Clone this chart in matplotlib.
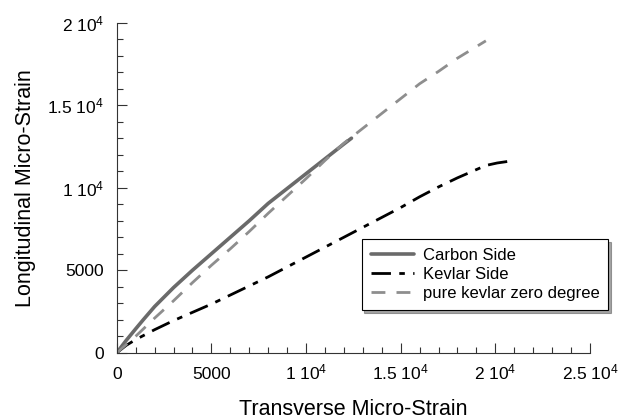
import matplotlib
matplotlib.use("Agg")
import matplotlib.pyplot as plt
from matplotlib.ticker import MultipleLocator, FixedLocator

plt.rcParams['font.family'] = ['Liberation Sans', 'DejaVu Sans']
plt.rcParams['mathtext.fontset'] = 'custom'
plt.rcParams['mathtext.rm'] = 'Liberation Sans'
plt.rcParams['mathtext.it'] = 'Liberation Sans'

carbon_x = [0, 500, 1000, 1400, 2000, 3000, 4000, 5000, 6000, 7000, 8000, 9000, 10000, 11000, 12000, 12400]
carbon_y = [0, 750, 1450, 2000, 2800, 3950, 5000, 6000, 7000, 8000, 9050, 9950, 10850, 11750, 12650, 13000]

kevlar_x = [0, 500, 1000, 2000, 3000, 4000, 5000, 6000, 7000, 8000, 9000, 10000, 11000, 12000, 13000,
            14000, 15000, 16000, 17000, 18000, 19000, 19500, 20100, 20700]
kevlar_y = [0, 450, 800, 1400, 1950, 2450, 2950, 3500, 4050, 4600, 5200, 5800, 6400, 7000, 7600,
            8200, 8800, 9450, 10050, 10600, 11100, 11350, 11500, 11600]

pure_x = [0, 1000, 2000, 3000, 4000, 5000, 6000, 7000, 8000, 9000, 10000, 11000, 12000, 13000,
          14000, 15000, 16000, 17000, 18000, 19000, 19500]
pure_y = [0, 1000, 2100, 3150, 4250, 5300, 6300, 7350, 8450, 9500, 10550, 11650, 12700, 13600,
          14500, 15400, 16300, 17050, 17850, 18550, 18900]

xticks = [0, 5000, 10000, 15000, 20000, 25000]
xticklabels = ['0', '5000', r'1 10$^{4}$', r'1.5 10$^{4}$', r'2 10$^{4}$', r'2.5 10$^{4}$']
yticks = [0, 5000, 10000, 15000, 20000]
yticklabels = ['0', '5000', r'1 10$^{4}$', r'1.5 10$^{4}$', r'2 10$^{4}$']

fig = plt.figure(figsize=(6.31, 4.20), dpi=100)
ax = fig.add_axes([0.185, 0.160, 0.750, 0.786])

ax.plot(carbon_x, carbon_y, color='#6a6a6a', lw=2.6, label='Carbon Side', solid_capstyle='round')
ax.plot(kevlar_x, kevlar_y, color='black', lw=2.0, dashes=(7, 3, 2, 3), label='Kevlar Side')
ax.plot(pure_x, pure_y, color='#8e8e8e', lw=2.0, dashes=(5, 4), label='pure kevlar zero degree')

ax.set_xlim(0, 25000)
ax.set_ylim(0, 20000)
ax.xaxis.set_major_locator(FixedLocator(xticks))
ax.yaxis.set_major_locator(FixedLocator(yticks))
ax.set_xticklabels(xticklabels)
ax.set_yticklabels(yticklabels)
ax.xaxis.set_minor_locator(MultipleLocator(1000))
ax.yaxis.set_minor_locator(MultipleLocator(1000))
ax.tick_params(which='both', direction='in', width=0.8, labelsize=12.5, color='#333333')
ax.tick_params(which='major', length=7)
ax.tick_params(axis='x', which='major', pad=19)
ax.tick_params(axis='y', which='major', pad=9)
ax.tick_params(which='minor', length=4)
for lab in ax.get_xticklabels():
    lab.set_verticalalignment('baseline')
for lab in ax.get_yticklabels():
    lab.set_verticalalignment('center_baseline')
ax.spines['top'].set_visible(False)
ax.spines['right'].set_visible(False)
for s in ('left', 'bottom'):
    ax.spines[s].set_linewidth(0.8)
    ax.spines[s].set_color('#333333')

ax.set_xlabel('Transverse Micro-Strain', fontsize=15.5)
ax.xaxis.set_label_coords(0.5, -0.140)
ax.set_ylabel('Longitudinal Micro-Strain', fontsize=15.5, labelpad=8)

leg = ax.legend(loc='lower left', bbox_to_anchor=(0.50, 0.105), fontsize=12,
                frameon=True, fancybox=False, shadow=True, edgecolor='black',
                handlelength=2.6, borderpad=0.55, labelspacing=0.22, handletextpad=0.5)
leg.get_frame().set_linewidth(0.8)
leg.get_frame().set_alpha(1)

fig.savefig('out.png', dpi=100)
